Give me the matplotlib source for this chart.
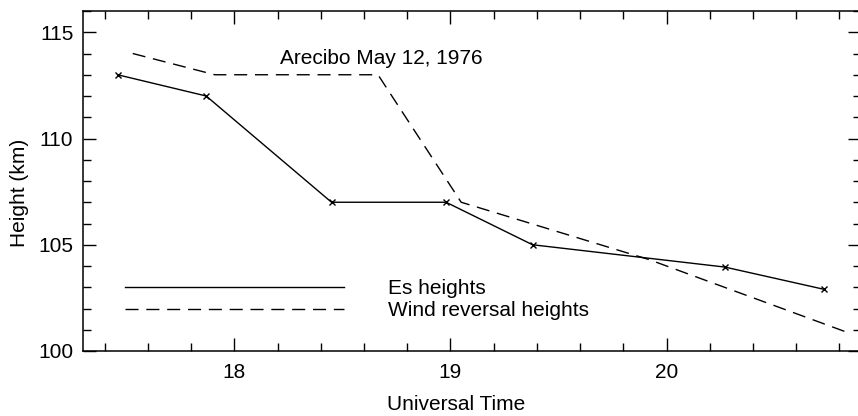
import numpy as np
import matplotlib
matplotlib.use("Agg")
import matplotlib.pyplot as plt
from matplotlib.lines import Line2D
from matplotlib.ticker import MultipleLocator

plt.rcParams['font.family'] = ['Liberation Sans', 'DejaVu Sans']

# Es heights (solid, x markers)
es_time = [17.46, 17.87, 18.45, 18.98, 19.38, 20.27, 20.73]
es_height = [113.0, 112.0, 107.0, 107.0, 105.0, 103.95, 102.9]

# wind reversal heights (dashed)
wr_time = [17.53, 17.91, 18.665, 19.05, 19.92, 20.83]
wr_height = [114.0, 113.0, 113.0, 107.0, 104.3, 100.9]

fig = plt.figure(figsize=(8.58, 4.16), dpi=100)
ax = fig.add_axes([83/858, 65/416, 778/858, 340/416])

ax.plot(es_time, es_height, color='k', lw=1.0, marker='x', ms=4.5, mew=1.0)
ax.plot(wr_time, wr_height, color='k', lw=1.0, dashes=(9.4, 5.6))

ax.set_xlim(17.3, 20.9)
ax.set_ylim(100, 116)
ax.xaxis.set_major_locator(MultipleLocator(1))
ax.xaxis.set_minor_locator(MultipleLocator(0.2))
ax.yaxis.set_major_locator(MultipleLocator(5))
ax.yaxis.set_minor_locator(MultipleLocator(1))
ax.tick_params(which='both', direction='in', top=True, right=True, width=1.0)
ax.tick_params(which='major', length=9.5)
ax.tick_params(which='minor', length=5.5)
ax.tick_params(axis='x', pad=9, labelsize=15)
ax.tick_params(axis='y', pad=7, labelsize=15)
for s in ax.spines.values():
    s.set_linewidth(1.1)

ax.set_xlabel('Universal Time', fontsize=15)
ax.set_ylabel('Height (km)', fontsize=15)
ax.xaxis.set_label_coords(0.48, -0.128)
ax.yaxis.set_label_coords(-0.069, 0.466)

ax.text(18.21, 113.75, 'Arecibo May 12, 1976', fontsize=15, ha='left', va='center')

handles = [Line2D([], [], color='k', lw=1.0),
           Line2D([], [], color='k', lw=1.0, dashes=(9.4, 5.6))]
ax.legend(handles, ['Es heights', 'Wind reversal heights'], loc='upper left',
          bbox_to_anchor=(0.054, 0.212), frameon=False, fontsize=15,
          handlelength=10.5, handletextpad=2.1, labelspacing=0.17,
          borderpad=0, borderaxespad=0)

fig.savefig('out.png', dpi=100)
